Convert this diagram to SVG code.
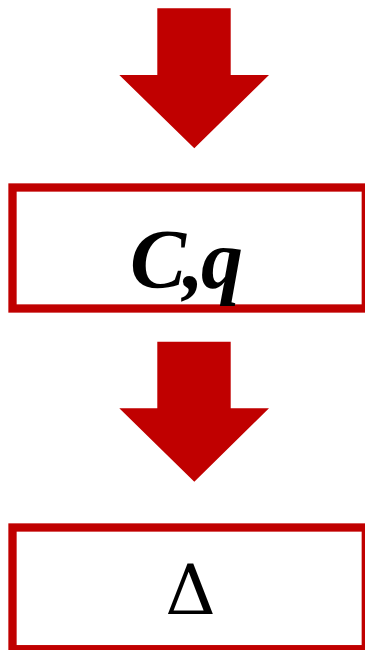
<svg xmlns="http://www.w3.org/2000/svg" width="365" height="650" viewBox="0 0 365 650">
<style>
.arrow{fill:#c00000;}
.box{fill:#ffffff;stroke:#c00000;stroke-width:8.3;}
.lbl{font-family:"Liberation Serif","Times New Roman",serif;fill:#000000;text-anchor:middle;}
.sym{font-family:"DejaVu Serif","Liberation Serif",serif;fill:#000000;text-anchor:middle;}
</style>
<rect width="365" height="650" fill="#ffffff"/>
<g id="connectors">
<polygon class="arrow" points="157.3,8.3 230.7,8.3 230.7,75 269,75 194.3,148.3 119.3,75 157.3,75"/>
<polygon class="arrow" points="157.3,341.7 230.7,341.7 230.7,408.3 269,408.3 194.3,481.7 119.3,408.3 157.3,408.3"/>
</g>
<g id="node-cq">
<rect class="box" x="12.5" y="187.5" width="353.3" height="121"/>
<text class="lbl" x="185" y="288" font-size="84" font-weight="bold" font-style="italic" letter-spacing="-3">C,q</text>
</g>
<g id="node-delta">
<rect class="box" x="12.5" y="527.5" width="353.3" height="121.7"/>
<text class="sym" x="190.5" y="614" font-size="70">Δ</text>
</g>
</svg>
